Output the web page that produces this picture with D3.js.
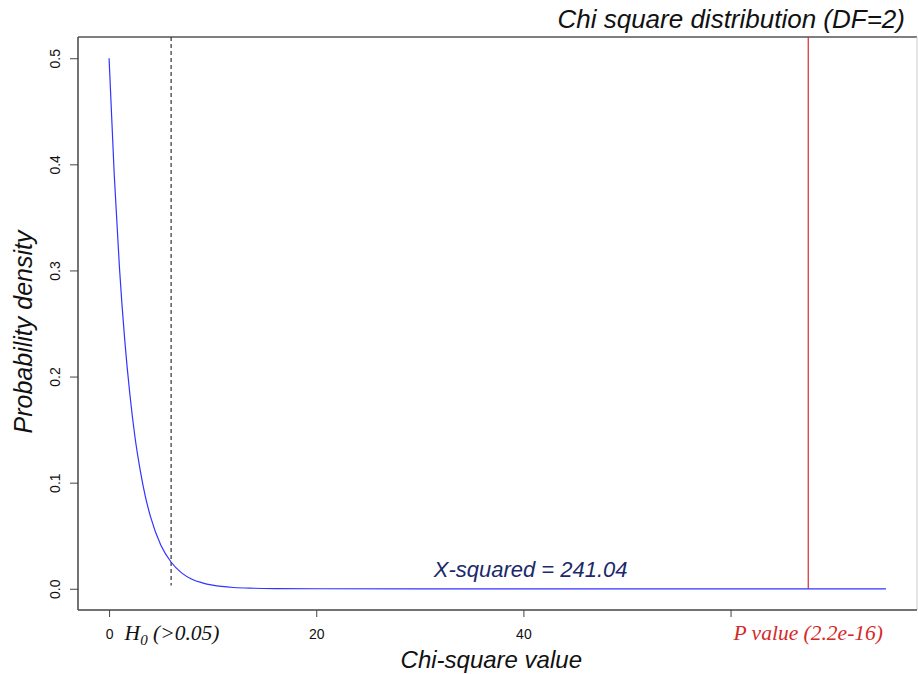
<!DOCTYPE html>
<html>
<head>
<meta charset="utf-8">
<script src="https://cdn.jsdelivr.net/npm/d3@7"></script>
<style>
  body { margin: 0; background: #fff; }
  svg { display: block; font-family: "Liberation Sans", Arial, sans-serif; }
</style>
</head>
<body>
<svg id="chart"></svg>
<script>
// values
const chiX = [0, 0.5, 1, 1.5, 2, 2.5, 3, 3.5, 4, 5, 6, 7, 8, 9, 10, 12, 14, 16, 20, 30, 40, 50, 60, 70, 75];
const density = [0.5, 0.39, 0.303, 0.236, 0.184, 0.143, 0.112, 0.087, 0.068, 0.041, 0.025, 0.015, 0.009, 0.0056, 0.0034, 0.0012, 0.0005, 0.0002, 0.00002, 0, 0, 0, 0, 0, 0];
const xTicks = [0, 20, 40, 60];
const xTickLabels = ["0", "20", "40", ""];
const yTicks = [0, 0.1, 0.2, 0.3, 0.4, 0.5];
const criticalValue = 5.99;   // dashed line, H0 cut-off
const pValueX = 67.5;         // red line
const statText = "X-squared = 241.04";

const W = 918, H = 674;
const margin = {top: 37, right: 1, bottom: 64, left: 78};
const width = W - margin.left - margin.right;
const height = H - margin.top - margin.bottom;
const sans = "'Liberation Sans', Arial, sans-serif";
const serif = "'Liberation Serif', 'Times New Roman', serif";

const svg = d3.select("#chart").attr("width", W).attr("height", H);
const g = svg.append("g").attr("transform", `translate(${margin.left},${margin.top})`);

// R-style 4% padding on both axes
const x = d3.scaleLinear().domain([-3, 78]).range([0, width]);
const y = d3.scaleLinear().domain([-0.02, 0.52]).range([height, 0]);

// box
g.append("line").attr("x1", 0).attr("x2", width).attr("y1", 0).attr("y2", 0).attr("stroke", "#555").attr("stroke-width", 1.5);
g.append("line").attr("x1", width).attr("x2", width).attr("y1", 0).attr("y2", height).attr("stroke", "#ccc");

// axes
const xAxis = g.append("g")
    .attr("transform", `translate(0,${height})`)
    .call(d3.axisBottom(x).tickValues(xTicks).tickFormat((d, i) => xTickLabels[i]).tickSizeOuter(0).tickSize(7).tickPadding(12))
    .attr("font-size", 14).attr("font-family", sans);
xAxis.select(".domain").attr("d", `M0,0H${width}`).attr("stroke", "#444").attr("stroke-width", 1.5);
xAxis.selectAll(".tick line").attr("stroke", "#444");
xAxis.selectAll("text").attr("fill", "#111");

const yAxis = g.append("g")
    .call(d3.axisLeft(y).tickValues(yTicks).tickFormat(d3.format(".1f")).tickSizeOuter(0).tickSize(8).tickPadding(0))
    .attr("font-size", 14).attr("font-family", sans);
yAxis.select(".domain").attr("d", `M0,0V${height}`).attr("stroke", "#444").attr("stroke-width", 1.5);
yAxis.selectAll(".tick line").attr("stroke", "#444");
yAxis.selectAll(".tick text")
    .attr("fill", "#111")
    .attr("text-anchor", "middle").attr("x", 0).attr("dy", 0)
    .attr("transform", "translate(-18,0) rotate(-90)");

// critical value line
g.append("line")
    .attr("x1", x(criticalValue)).attr("x2", x(criticalValue))
    .attr("y1", 0).attr("y2", y(0.003))
    .attr("stroke", "#333").attr("stroke-width", 1.2).attr("stroke-dasharray", "4,3");

// p value line
g.append("line")
    .attr("x1", x(pValueX)).attr("x2", x(pValueX))
    .attr("y1", 0).attr("y2", y(0))
    .attr("stroke", "#d42a2a").attr("stroke-width", 1.2);

// density curve
const curveData = chiX.map((v, i) => ({x: v, y: density[i]}));
const line = d3.line()
    .x(d => x(d.x))
    .y(d => y(d.y))
    .curve(d3.curveMonotoneX);
g.append("path")
    .datum(curveData)
    .attr("fill", "none")
    .attr("stroke", "#3333ff")
    .attr("stroke-width", 1.2)
    .attr("d", line);

// labels
g.append("text")
    .attr("x", x(40.7)).attr("y", y(0.011))
    .attr("text-anchor", "middle")
    .style("font-size", "22px").style("font-style", "italic").attr("fill", "#1b2a6b")
    .text(statText);

const h0 = g.append("text")
    .attr("x", x(1.5)).attr("y", height + 30)
    .style("font-family", serif)
    .style("font-size", "21.5px").style("font-style", "italic").attr("fill", "#111");
h0.append("tspan").text("H");
h0.append("tspan").style("font-size", "15px").attr("dy", 5).text("0");
h0.append("tspan").attr("dy", -5).text(" (>0.05)");

g.append("text")
    .attr("x", x(pValueX)).attr("y", height + 30)
    .attr("text-anchor", "middle")
    .style("font-family", serif)
    .style("font-size", "21.5px").style("font-style", "italic").attr("fill", "#d42a2a")
    .text("P value (2.2e-16)");

svg.append("text")
    .attr("x", margin.left + x(36.9)).attr("y", H - 6)
    .attr("text-anchor", "middle")
    .style("font-size", "24px").style("font-style", "italic").attr("fill", "#111")
    .text("Chi-square value");

svg.append("text")
    .attr("transform", `translate(32,332) rotate(-90)`)
    .attr("text-anchor", "middle")
    .style("font-size", "25px").style("font-style", "italic").attr("fill", "#111")
    .text("Probability density");

svg.append("text")
    .attr("x", 905).attr("y", 28)
    .attr("text-anchor", "end")
    .style("font-size", "26px").style("font-style", "italic").attr("fill", "#111")
    .text("Chi square distribution (DF=2)");
</script>
</body>
</html>
